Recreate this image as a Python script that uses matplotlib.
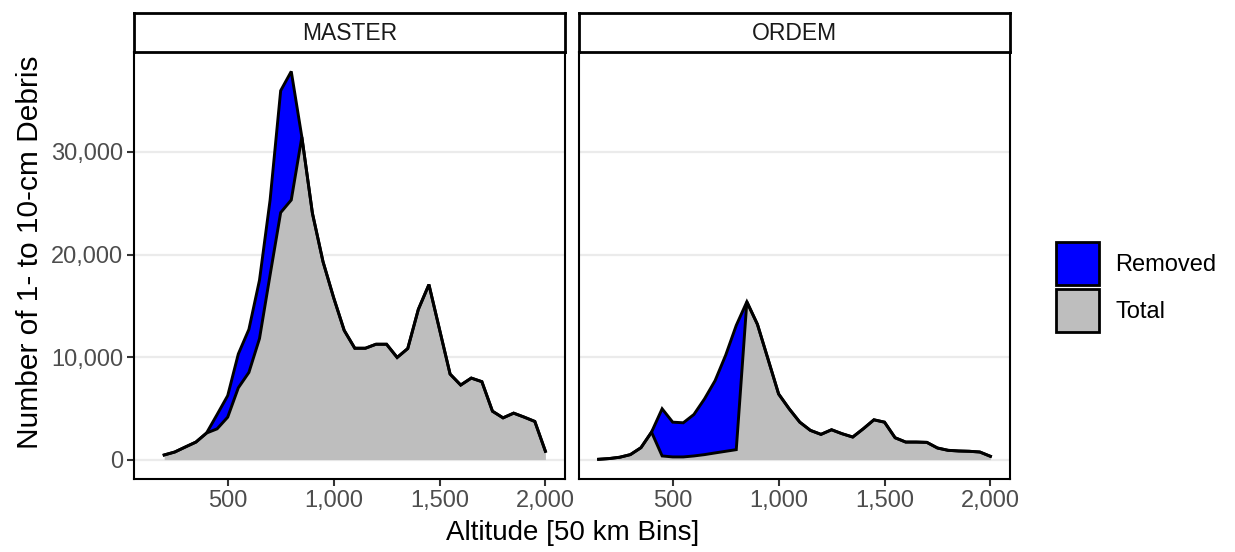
import numpy as np
import matplotlib
matplotlib.use("Agg")
import matplotlib.pyplot as plt
from matplotlib.patches import Patch
from matplotlib.ticker import FuncFormatter

plt.rcParams['font.family'] = ['Liberation Sans', 'DejaVu Sans']

# altitude bins (km)
master_alt = [200, 250, 300, 350, 400, 450, 500, 550, 600, 650, 700, 750, 800,
              850, 900, 950, 1000, 1050, 1100, 1150, 1200, 1250, 1300, 1350,
              1400, 1450, 1500, 1550, 1600, 1650, 1700, 1750, 1800, 1850,
              1900, 1950, 2000]
master_total = [450, 740, 1230, 1710, 2590, 3000, 4140, 7000, 8500, 11800,
                18000, 24090, 25320, 31460, 24020, 19300, 15800, 12600, 10860,
                10860, 11250, 11250, 9960, 10830, 14650, 17070, 12700, 8340,
                7270, 7950, 7600, 4720, 4070, 4530, 4140, 3720, 810]
master_removed = [0, 0, 0, 0, 0, 1400, 2100, 3300, 4200, 5700, 7300, 11890,
                  12540, 0, 0, 0, 0, 0, 0, 0, 0, 0, 0, 0, 0, 0, 0, 0, 0, 0,
                  0, 0, 0, 0, 0, 0, 0]

ordem_alt = [150, 200, 250, 300, 350, 400, 450, 500, 550, 600, 650, 700, 750,
             800, 850, 900, 950, 1000, 1050, 1100, 1150, 1200, 1250, 1300,
             1350, 1400, 1450, 1500, 1550, 1600, 1650, 1700, 1750, 1800,
             1850, 1900, 1950, 2000]
ordem_total = [30, 100, 230, 485, 1160, 2680, 355, 260, 260, 355, 485, 650,
               810, 970, 15390, 13190, 9800, 6400, 4950, 3650, 2850, 2460,
               2910, 2520, 2200, 3010, 3880, 3650, 2130, 1710, 1710, 1680,
               1130, 905, 840, 810, 740, 320]
ordem_removed = [0, 0, 0, 0, 0, 0, 4600, 3390, 3330, 4045, 5435, 7050, 9370,
                 12120, 0, 0, 0, 0, 0, 0, 0, 0, 0, 0, 0, 0, 0, 0, 0, 0, 0, 0,
                 0, 0, 0, 0, 0, 0]

panels = [("MASTER", master_alt, master_total, master_removed),
          ("ORDEM", ordem_alt, ordem_total, ordem_removed)]

blue = "#0000FF"
grey = "#BEBEBE"
tick_col = "#4D4D4D"

fig = plt.figure(figsize=(12.35, 5.52), dpi=100)
W, H = 1235, 552
panel_x = [134, 579]
panel_w = 431
top, bottom = 52, 479
strip_top = 13

ymax = max(np.array(master_total) + np.array(master_removed))
ylim = (-0.05 * ymax, 1.05 * ymax)
xlim = (150 - 0.05 * 1850, 2000 + 0.05 * 1850)

comma = FuncFormatter(lambda v, p: f"{int(v):,}")

for i, (name, alt, total, removed) in enumerate(panels):
    ax = fig.add_axes([panel_x[i] / W, 1 - bottom / H, panel_w / W, (bottom - top) / H])
    alt = np.array(alt)
    total = np.array(total)
    upper = total + np.array(removed)
    ax.fill_between(alt, 0, total, color=grey, lw=0, zorder=2)
    ax.fill_between(alt, total, upper, color=blue, lw=0, zorder=2)
    ax.plot(alt, upper, color="black", lw=2.1, zorder=3, solid_joinstyle="miter")
    ax.plot(alt, total, color="black", lw=2.1, zorder=3, solid_joinstyle="miter")

    ax.set_xlim(*xlim)
    ax.set_ylim(*ylim)
    ax.set_yticks([0, 10000, 20000, 30000])
    ax.set_xticks([500, 1000, 1500, 2000])
    ax.xaxis.set_major_formatter(comma)
    ax.yaxis.set_major_formatter(comma)
    ax.grid(axis="y", color="#EBEBEB", lw=1.6, zorder=1)
    ax.set_axisbelow(True)
    for s in ax.spines.values():
        s.set_linewidth(1.5)
        s.set_color("black")
    ax.tick_params(axis="both", length=5, width=1.5, color="#333333",
                   labelsize=17, labelcolor=tick_col, pad=3)
    if i == 1:
        ax.tick_params(axis="y", left=False, labelleft=False)

    # facet strip
    sax = fig.add_axes([panel_x[i] / W, 1 - top / H, panel_w / W, (top - strip_top) / H])
    sax.set_xticks([])
    sax.set_yticks([])
    for s in sax.spines.values():
        s.set_linewidth(2.0)
        s.set_color("black")
    sax.text(0.5, 0.48, name, ha="center", va="center", fontsize=16.5,
             color="#1A1A1A", transform=sax.transAxes)

fig.text(573 / W, 1 - 533 / H, "Altitude [50 km Bins]", ha="center", va="center",
         fontsize=20)
fig.text(30 / W, 1 - 252 / H, "Number of 1- to 10-cm Debris", ha="center",
         va="center", rotation=90, fontsize=21.5)

handles = [Patch(facecolor=blue, edgecolor="black", lw=2),
           Patch(facecolor=grey, edgecolor="black", lw=2)]
fig.legend(handles, ["Removed", "Total"], loc="center left",
           bbox_to_anchor=(1056 / W, 1 - 287 / H), frameon=False, fontsize=17,
           handlelength=1.8, handleheight=2.43, labelspacing=0.17,
           handletextpad=0.7, borderpad=0, borderaxespad=0)

fig.savefig("out.png", dpi=100)
